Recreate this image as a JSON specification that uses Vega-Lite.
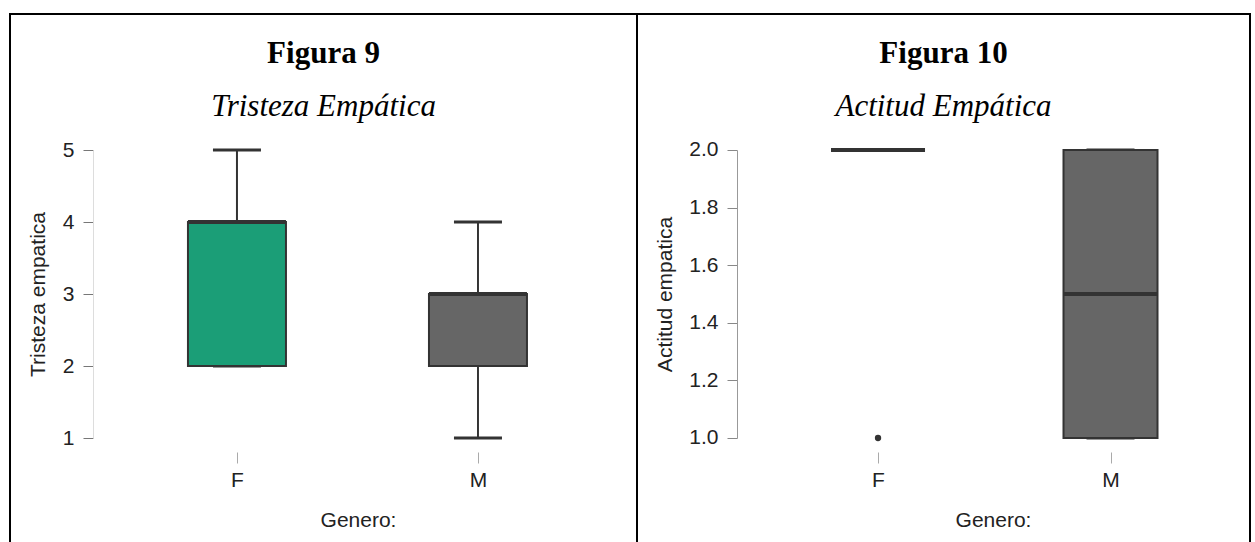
{
  "$schema": "https://vega.github.io/schema/vega-lite/v6.json",
  "padding": {"left": 9, "top": 13, "right": 4, "bottom": -21},
  "autosize": {"type": "pad"},
  "bounds": "flush",
  "spacing": 0,
  "config": {
    "view": {"stroke": "#000000", "strokeWidth": 2},
    "font": "Liberation Sans",
    "tick": {"opacity": 1},
    "title": {
      "font": "Liberation Serif", "fontSize": 31, "fontWeight": "bold", "color": "#000000",
      "subtitleFont": "Liberation Serif", "subtitleFontSize": 31, "subtitleFontStyle": "italic",
      "subtitleFontWeight": "normal", "subtitleColor": "#000000", "subtitlePadding": 22,
      "anchor": "middle", "frame": "group", "offset": -109
    },
    "axis": {
      "labelFont": "Liberation Sans", "labelFontSize": 21, "labelColor": "#222222",
      "titleFont": "Liberation Sans", "titleFontSize": 21, "titleFontWeight": "normal", "titleColor": "#222222",
      "grid": false
    }
  },
  "hconcat": [
    {
      "width": 627,
      "height": 548,
      "title": {"text": "Figura 9", "subtitle": "Tristeza Empática"},
      "data": {"values": [
        {"genero": "F", "lower": 2, "q1": 2, "median": 4, "q3": 4, "upper": 5},
        {"genero": "M", "lower": 1, "q1": 2, "median": 3, "q3": 3, "upper": 4}
      ]},
      "encoding": {
        "x": {"field": "genero", "type": "nominal",
              "scale": {"type": "point", "domain": ["F", "M"], "padding": 0.8008, "align": 0.588},
              "axis": {"title": "Genero:", "labelAngle": 0, "orient": "bottom", "offset": -110, "domain": false,
                       "tickSize": 11, "tickColor": "#aaaaaa", "labelPadding": 6,
                       "titleX": 348, "titleY": 57}}
      },
      "layer": [
        {
          "mark": {"type": "rule", "color": "#333333", "strokeWidth": 2},
          "encoding": {
            "y": {"field": "lower", "type": "quantitative",
                  "scale": {"domain": [-0.7222, 6.8889], "nice": false, "zero": false},
                  "axis": {"title": "Tristeza empatica", "values": [1, 2, 3, 4, 5], "format": "d",
                           "offset": -83, "tickSize": 10, "tickColor": "#777777", "labelPadding": 9,
                           "domainColor": "#dddddd", "domainWidth": 1, "domainDash": [0, 124, 288, 3000],
                           "titleX": -45, "titleY": 280}},
            "y2": {"field": "upper"}
          }
        },
        {
          "mark": {"type": "tick", "color": "#333333", "size": 48, "thickness": 3, "opacity": 1},
          "encoding": {"y": {"field": "upper", "type": "quantitative"}}
        },
        {
          "mark": {"type": "tick", "color": "#333333", "size": 48, "thickness": 3, "opacity": 1},
          "encoding": {"y": {"field": "lower", "type": "quantitative"}}
        },
        {
          "mark": {"type": "bar", "width": 98, "stroke": "#333333", "strokeWidth": 2},
          "encoding": {
            "y": {"field": "q1", "type": "quantitative"},
            "y2": {"field": "q3"},
            "color": {"field": "genero", "type": "nominal",
                      "scale": {"domain": ["F", "M"], "range": ["#1b9e77", "#666666"]}, "legend": null}
          }
        },
        {
          "mark": {"type": "tick", "color": "#333333", "size": 98, "thickness": 4, "opacity": 1},
          "encoding": {"y": {"field": "median", "type": "quantitative"}}
        }
      ]
    },
    {
      "width": 613,
      "height": 548,
      "title": {"text": "Figura 10", "subtitle": "Actitud Empática"},
      "data": {"values": [
        {"genero": "F", "lower": 2, "q1": 2, "median": 2, "q3": 2, "upper": 2, "outlier": 1},
        {"genero": "M", "lower": 1, "q1": 1, "median": 1.5, "q3": 2, "upper": 2}
      ]},
      "encoding": {
        "x": {"field": "genero", "type": "nominal",
              "scale": {"type": "point", "domain": ["F", "M"], "padding": 0.8183, "align": 0.6334},
              "axis": {"title": "Genero:", "labelAngle": 0, "orient": "bottom", "offset": -110, "domain": false,
                       "tickSize": 11, "tickColor": "#aaaaaa", "labelPadding": 6,
                       "titleX": 356, "titleY": 57}}
      },
      "layer": [
        {
          "mark": {"type": "rule", "color": "#333333", "strokeWidth": 2},
          "encoding": {
            "y": {"field": "lower", "type": "quantitative",
                  "scale": {"domain": [0.5694, 2.4722], "nice": false, "zero": false},
                  "axis": {"title": "Actitud empatica", "values": [1, 1.2, 1.4, 1.6, 1.8, 2], "format": ".1f",
                           "offset": -100, "tickSize": 10, "tickColor": "#888888", "labelPadding": 9,
                           "domainColor": "#999999", "domainWidth": 1, "domainDash": [0, 124, 288, 3000],
                           "titleX": -62, "titleY": 280}},
            "y2": {"field": "upper"}
          }
        },
        {
          "mark": {"type": "tick", "color": "#333333", "size": 48, "thickness": 3, "opacity": 1},
          "encoding": {"y": {"field": "upper", "type": "quantitative"}}
        },
        {
          "mark": {"type": "tick", "color": "#333333", "size": 48, "thickness": 3, "opacity": 1},
          "encoding": {"y": {"field": "lower", "type": "quantitative"}}
        },
        {
          "mark": {"type": "bar", "width": 94, "stroke": "#333333", "strokeWidth": 2},
          "encoding": {
            "y": {"field": "q1", "type": "quantitative"},
            "y2": {"field": "q3"},
            "color": {"field": "genero", "type": "nominal",
                      "scale": {"domain": ["F", "M"], "range": ["#1b9e77", "#656565"]}, "legend": null}
          }
        },
        {
          "mark": {"type": "tick", "color": "#333333", "size": 94, "thickness": 4, "opacity": 1},
          "encoding": {"y": {"field": "median", "type": "quantitative"}}
        },
        {
          "transform": [{"filter": "isValid(datum.outlier)"}],
          "mark": {"type": "point", "filled": true, "color": "#333333", "size": 40, "opacity": 1},
          "encoding": {"y": {"field": "outlier", "type": "quantitative"}}
        }
      ]
    }
  ]
}
